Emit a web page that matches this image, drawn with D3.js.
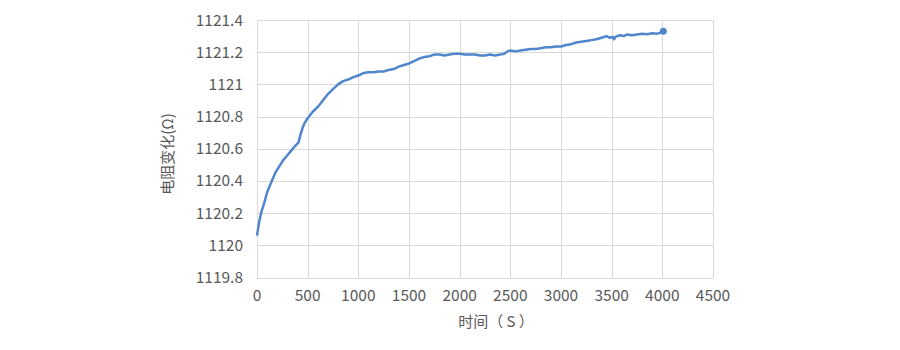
<!DOCTYPE html>
<html>
<head>
<meta charset="utf-8">
<script src="https://d3js.org/d3.v7.min.js"></script>
<style>
  body { margin: 0; background: #fff; }
  text { font-family: "Noto Sans CJK SC", "Noto Sans", sans-serif; fill: #595959; }
</style>
</head>
<body>
<svg id="chart" width="900" height="350"></svg>
<script>
// time (s)
var times = [0, 20, 40, 70, 100, 140, 180, 220, 260, 300, 340, 380, 410, 430, 450, 470, 500,
  550, 600, 650, 700, 750, 800, 850, 900, 950, 1000, 1050, 1100, 1150, 1200, 1250, 1300, 1350,
  1400, 1450, 1500, 1550, 1600, 1650, 1700, 1750, 1800, 1850, 1900, 1950, 2000, 2050, 2100,
  2150, 2200, 2250, 2300, 2350, 2400, 2440, 2470, 2500, 2550, 2600, 2650, 2700, 2750, 2800,
  2850, 2900, 2950, 3000, 3050, 3100, 3150, 3200, 3250, 3300, 3350, 3400, 3450, 3480, 3510,
  3525, 3535, 3580, 3620, 3650, 3700, 3750, 3800, 3850, 3900, 3950, 4000, 4010];
// resistance (ohm)
var resist = [1120.06, 1120.14, 1120.20, 1120.26, 1120.33, 1120.39, 1120.45, 1120.49, 1120.53,
  1120.56, 1120.59, 1120.62, 1120.64, 1120.69, 1120.73, 1120.76, 1120.79,
  1120.83, 1120.86, 1120.90, 1120.94, 1120.97, 1121.00, 1121.02, 1121.03, 1121.045, 1121.055,
  1121.07, 1121.075, 1121.075, 1121.08, 1121.08, 1121.09, 1121.095,
  1121.11, 1121.12, 1121.13, 1121.145, 1121.16, 1121.17, 1121.175, 1121.185, 1121.185, 1121.18,
  1121.185, 1121.19, 1121.19, 1121.185, 1121.185,
  1121.185, 1121.18, 1121.18, 1121.185, 1121.18, 1121.185, 1121.19, 1121.205, 1121.21, 1121.205,
  1121.21, 1121.215, 1121.22, 1121.22, 1121.225,
  1121.23, 1121.23, 1121.235, 1121.235, 1121.245, 1121.25, 1121.26, 1121.265, 1121.27, 1121.275,
  1121.28, 1121.29, 1121.30, 1121.29, 1121.295,
  1121.28, 1121.295, 1121.305, 1121.30, 1121.31, 1121.305, 1121.31, 1121.315, 1121.312, 1121.318,
  1121.315, 1121.325, 1121.33];
var xTicks = [0, 500, 1000, 1500, 2000, 2500, 3000, 3500, 4000, 4500];
var yTicks = [1119.8, 1120, 1120.2, 1120.4, 1120.6, 1120.8, 1121, 1121.2, 1121.4];

var svg = d3.select("#chart");
var x = d3.scaleLinear().domain([0, 4500]).range([257, 713]);
var y = d3.scaleLinear().domain([1119.8, 1121.4]).range([277.5, 20]);

// gridlines
svg.append("g").selectAll("line").data(yTicks).enter().append("line")
  .attr("x1", 257).attr("x2", 713)
  .attr("y1", function(d) { return Math.round(y(d)) + 0.5; })
  .attr("y2", function(d) { return Math.round(y(d)) + 0.5; })
  .attr("stroke", "#d9d9d9").attr("stroke-width", 1);
svg.append("g").selectAll("line").data(xTicks).enter().append("line")
  .attr("y1", 20).attr("y2", 278)
  .attr("x1", function(d) { return Math.round(x(d)) + 0.5; })
  .attr("x2", function(d) { return Math.round(x(d)) + 0.5; })
  .attr("stroke", "#d9d9d9").attr("stroke-width", 1);

// tick labels
svg.append("g").selectAll("text").data(yTicks).enter().append("text")
  .attr("x", 243).attr("y", function(d) { return y(d) + 5.5; })
  .attr("text-anchor", "end").attr("font-size", "15.5px")
  .text(function(d) { return d3.format("")(+d.toFixed(1)); });
svg.append("g").selectAll("text").data(xTicks).enter().append("text")
  .attr("x", function(d) { return x(d); }).attr("y", 301)
  .attr("text-anchor", "middle").attr("font-size", "15.5px")
  .text(function(d) { return d; });

// axis titles
svg.append("text").attr("x", 496).attr("y", 327)
  .attr("text-anchor", "middle").attr("font-size", "15px")
  .attr("xml:space", "preserve")
  .text("时间（ S ）");
svg.append("text")
  .attr("transform", "translate(173,154) rotate(-90)")
  .attr("text-anchor", "middle").attr("font-size", "15px")
  .text("电阻变化(Ω)");

// data line
var pts = times.map(function(t, i) { return [t, resist[i]]; });
svg.append("path").datum(pts)
  .attr("fill", "none").attr("stroke", "#4f86cc").attr("stroke-width", 2.5)
  .attr("stroke-linejoin", "round")
  .attr("d", d3.line().x(function(d) { return x(d[0]); }).y(function(d) { return y(d[1]); }));
var last = pts[pts.length - 1];
svg.append("circle").attr("cx", x(last[0])).attr("cy", y(last[1])).attr("r", 3.5)
  .attr("fill", "#4f86cc");
</script>
</body>
</html>
